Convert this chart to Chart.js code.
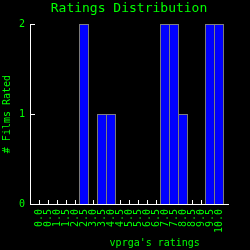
<!DOCTYPE html>
<html>
<head>
<meta charset="utf-8">
<script src="https://cdn.jsdelivr.net/npm/chart.js@4/dist/chart.umd.min.js"></script>
<style>
  html, body { margin: 0; padding: 0; background: #000; }
  #wrap { width: 250px; height: 250px; }
</style>
</head>
<body>
<div id="wrap"><canvas id="c" width="250" height="250"></canvas></div>
<script>
const chartTitle = "Ratings Distribution";
const xAxisTitle = "vprga's ratings";
const yAxisTitle = "# Films Rated";
const ratingLabels = ["0.0","0.5","1.0","1.5","2.0","2.5","3.0","3.5","4.0","4.5","5.0","5.5","6.0","6.5","7.0","7.5","8.0","8.5","9.0","9.5","10.0"];
const filmCounts   = [0,0,0,0,0,2,0,1,1,0,0,0,0,0,2,2,1,0,0,2,2];
const countTicks = [0, 1, 2];

const GREEN = '#00ff00';
const MONO = '"DejaVu Sans Mono", "Liberation Mono", monospace';

const points = ratingLabels.map((l, i) => ({ x: parseFloat(l), y: filmCounts[i] }));

const bgPlugin = {
  id: 'bg',
  beforeDraw(chart) {
    const ctx = chart.ctx;
    ctx.save();
    ctx.fillStyle = '#000';
    ctx.fillRect(0, 0, chart.width, chart.height);
    ctx.restore();
  }
};

const tickMarks = {
  id: 'tickMarks',
  beforeDatasetsDraw(chart) {
    const ctx = chart.ctx;
    const xs = chart.scales.x, ys = chart.scales.y;
    const a = chart.chartArea;
    ctx.save();
    ctx.strokeStyle = '#ffffff';
    ctx.lineWidth = 1;
    ctx.beginPath();
    ratingLabels.forEach(l => {
      const px = Math.round(xs.getPixelForValue(parseFloat(l))) + 0.5;
      ctx.moveTo(px, a.bottom);
      ctx.lineTo(px, a.bottom - 4);
    });
    countTicks.forEach(v => {
      const py = Math.round(ys.getPixelForValue(v)) + 0.5;
      ctx.moveTo(a.left, py);
      ctx.lineTo(a.left + 5, py);
    });
    ctx.stroke();
    ctx.restore();
  }
};

const xTitlePlugin = {
  id: 'xTitle',
  afterDraw(chart) {
    const ctx = chart.ctx;
    const a = chart.chartArea;
    ctx.save();
    ctx.fillStyle = GREEN;
    ctx.font = '10px ' + MONO;
    ctx.textAlign = 'center';
    ctx.textBaseline = 'middle';
    ctx.fillText(xAxisTitle, a.left + a.width * 0.63, 243);
    ctx.restore();
  }
};

new Chart(document.getElementById('c'), {
  type: 'bar',
  data: {
    datasets: [{
      data: points,
      backgroundColor: '#0000ff',
      borderColor: '#808080',
      borderWidth: 1,
      borderSkipped: 'bottom',
      barPercentage: 1.1,
      categoryPercentage: 1.0
    }]
  },
  options: {
    responsive: false,
    animation: false,
    events: [],
    layout: { padding: { left: 0, right: 22, top: 0, bottom: 0 } },
    plugins: {
      legend: { display: false },
      tooltip: { enabled: false },
      title: {
        display: true,
        text: chartTitle,
        color: GREEN,
        fullSize: false,
        font: { family: MONO, size: 13, weight: 'normal' },
        padding: { top: 0.5, bottom: 8 }
      }
    },
    scales: {
      x: {
        type: 'linear',
        offset: false,
        min: -0.5,
        max: 10.5,
        grid: { display: false, drawTicks: false, offset: false },
        border: { display: true, color: '#ffffff', width: 1 },
        afterBuildTicks(scale) {
          scale.ticks = ratingLabels.map(l => ({ value: parseFloat(l) }));
        },
        afterFit(scale) { scale.height = 46; },
        ticks: {
          autoSkip: false,
          maxRotation: 90,
          minRotation: 90,
          padding: 5,
          color: GREEN,
          font: { family: MONO, size: 10 },
          callback: (v, i) => ratingLabels[i]
        }
      },
      y: {
        min: 0,
        max: 2,
        grid: { display: false, drawTicks: false },
        border: { display: true, color: '#ffffff', width: 1 },
        afterBuildTicks(scale) {
          scale.ticks = countTicks.map(v => ({ value: v }));
        },
        afterFit(scale) { scale.width = 30; },
        ticks: {
          padding: 5,
          color: GREEN,
          font: { family: MONO, size: 10 },
          callback: (v) => String(v)
        },
        title: {
          display: true,
          text: yAxisTitle,
          color: GREEN,
          font: { family: MONO, size: 10 },
          padding: { top: 1.5, bottom: 0 }
        }
      }
    }
  },
  plugins: [bgPlugin, tickMarks, xTitlePlugin]
});
</script>
</body>
</html>
